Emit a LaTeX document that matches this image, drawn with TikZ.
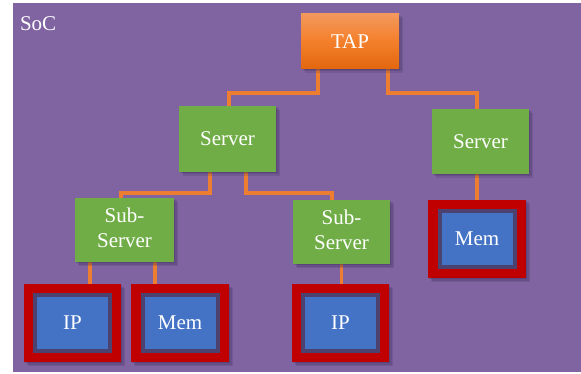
\documentclass[tikz,border=0pt]{standalone}
\usepackage{fontspec}
\setmainfont{Liberation Serif}
\pgfdeclarelayer{bg}
\pgfdeclarelayer{links}
\pgfsetlayers{bg,links,main}
\definecolor{socpurple}{HTML}{8064A2}
\definecolor{srvgreen}{HTML}{70AD47}
\definecolor{linkorange}{HTML}{ED7D31}
\definecolor{tapTop}{HTML}{F3985C}
\definecolor{tapMid}{HTML}{F47F2A}
\definecolor{tapBot}{HTML}{E2670F}
\definecolor{frameRed}{HTML}{C00000}
\definecolor{ipBlue}{HTML}{4472C4}
\definecolor{ipShade}{HTML}{4B4270}
\definecolor{shadowcol}{HTML}{3A2A55}
\begin{document}
\begin{tikzpicture}[x=1pt,y=-1pt,
  every node/.style={inner sep=0pt, outer sep=0pt, font=\fontsize{21}{25}\selectfont, text=white, align=center},
  shad/.style={
    preaction={fill=shadowcol, fill opacity=0.18, transform canvas={xshift=4pt,yshift=-4pt}},
    preaction={fill=shadowcol, fill opacity=0.22, transform canvas={xshift=2.5pt,yshift=-2.5pt}},
    preaction={fill=shadowcol, fill opacity=0.25, transform canvas={xshift=1pt,yshift=-1pt}}},
  tapbox/.style={shad, minimum width=98pt, minimum height=55pt, top color=tapTop, bottom color=tapBot, middle color=tapMid},
  srvbox/.style={shad, fill=srvgreen, minimum width=97pt, minimum height=65pt},
  frame/.style={shad, fill=frameRed, minimum width=97pt, minimum height=78pt},
  inner/.style={fill=ipBlue, draw=ipShade, line width=4pt, minimum width=75pt, minimum height=56pt},
  link/.style={draw=linkorange, line width=3.2pt}
]
\useasboundingbox (0,0) rectangle (581,374);
\begin{pgfonlayer}{bg}
  \fill[socpurple] (13,3) rectangle (581,372);
\end{pgfonlayer}
\node[anchor=base west] (soc) at (20,31) {SoC};

\node[tapbox] (tap) at (350,41.5) {TAP};
\node[srvbox, minimum height=66pt] (sl) at (227.5,139) {Server};
\node[srvbox] (sr) at (480.5,141.5) {Server};
\node[srvbox, minimum width=99pt, minimum height=64pt, text depth=5pt] (sub1) at (124.5,230) {Sub-\\Server};
\node[srvbox, minimum height=64pt, text depth=5pt] (sub2) at (341.5,232) {Sub-\\Server};

\node[frame] (ip1) at (72.5,323) {};
\node[inner] (ip1in) at (ip1.center) {IP};
\node[frame, minimum width=98pt] (mem1) at (180,323) {};
\node[inner] (mem1in) at (mem1.center) {Mem};
\node[frame] (ip2) at (340.5,323) {};
\node[inner] (ip2in) at (ip2.center) {IP};
\node[frame, minimum width=98pt] (mem2) at (477,239) {};
\node[inner] (mem2in) at (mem2.center) {Mem};

\begin{pgfonlayer}{links}
  \draw[link] ([xshift=-32pt]tap.south) -- ++(0,24) -| ([xshift=1.5pt]sl.north);
  \draw[link] ([xshift=38pt]tap.south) -- ++(0,24) -| ([xshift=-3.5pt]sr.north);
  \draw[link] ([xshift=-17.5pt]sl.south) -- ++(0,21) -| ([xshift=-3.5pt]sub1.north);
  \draw[link] ([xshift=18.5pt]sl.south) -- ++(0,21) -| ([xshift=-9.5pt]sub2.north);
  \draw[link] ([xshift=-34.5pt]sub1.south) -- ([xshift=-34.5pt]sub1.south |- ip1.north);
  \draw[link] ([xshift=30.5pt]sub1.south) -- ([xshift=30.5pt]sub1.south |- mem1.north);
  \draw[link] (sub2.south) -- (sub2.south |- ip2.north);
  \draw[link] ([xshift=-3.5pt]sr.south) -- ([xshift=-3.5pt]sr.south |- mem2.north);
\end{pgfonlayer}
\end{tikzpicture}
\end{document}
